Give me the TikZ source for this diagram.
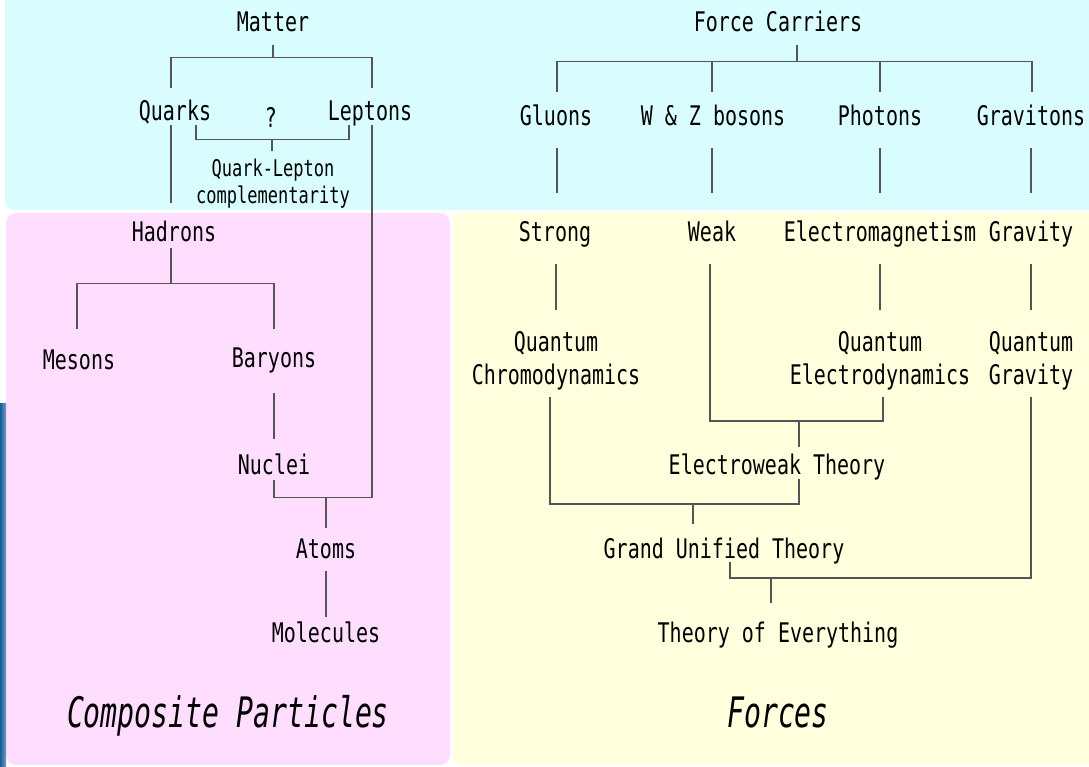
\documentclass[tikz,border=0pt]{standalone}
\usepackage{fontspec}
\newfontfamily\gfont[FakeStretch=0.74]{DejaVu Sans Mono}
\newfontfamily\gifont[FakeStretch=0.67]{DejaVu Sans Mono}
\usetikzlibrary{calc}
\definecolor{bluebg}{RGB}{217,253,255}
\definecolor{pinkbg}{RGB}{255,221,255}
\definecolor{yellowbg}{RGB}{255,254,221}
\definecolor{barblue}{RGB}{22,92,152}
\definecolor{linegray}{RGB}{85,85,85}
\tikzset{
  lbl/.style={font=\gfont\fontsize{27}{33}\selectfont, inner sep=0pt, text height=20pt, text depth=0pt},
  multi/.style={font=\gfont\fontsize{27}{33}\selectfont, inner sep=0pt, align=center, anchor=north},
  smalllbl/.style={font=\gfont\fontsize{23}{27}\selectfont, inner sep=0pt, align=center, anchor=north},
  paneltitle/.style={font=\gifont\itshape\fontsize{42}{50}\selectfont, inner sep=0pt, text height=31pt, text depth=0pt},
  conn/.style={draw=linegray, line width=1.3pt}
}
\begin{document}
\begin{tikzpicture}[x=1pt,y=-1pt]
\useasboundingbox (0,0) rectangle (1089,767);
\clip (0,0) rectangle (1089,767);
% panels
\fill[white] (0,0) rectangle (1089,767);
\fill[bluebg, rounded corners=10pt] (5,-30) rectangle (1120,210);
\fill[pinkbg, rounded corners=10pt] (6,213) rectangle (450,765);
\fill[yellowbg, rounded corners=10pt] (453,213) rectangle (1120,765);
\shade[left color=barblue, right color=barblue!60!white] (0,403) rectangle (6,767);

% left tree nodes
\node[lbl] (matter) at (273,22) {Matter};
\node[lbl] (quarks) at (175,111) {Quarks};
\node[lbl] (qm) at (271,118) {?};
\node[lbl] (leptons) at (370,111) {Leptons};
\node[smalllbl] (qlc) at (273,159) {Quark-Lepton\\complementarity};
\node[lbl] (hadrons) at (174,232) {Hadrons};
\node[lbl] (mesons) at (79,359) {Mesons};
\node[lbl] (baryons) at (274,357) {Baryons};
\node[lbl] (nuclei) at (274,464) {Nuclei};
\node[lbl] (atoms) at (326,548) {Atoms};
\node[lbl] (molecules) at (326,632) {Molecules};
\node[paneltitle] (comp) at (228,712) {Composite Particles};

% right tree nodes
\node[lbl] (fc) at (778,22) {Force Carriers};
\node[lbl] (gluons) at (556,116) {Gluons};
\node[lbl] (wz) at (713,116) {W \& Z bosons};
\node[lbl] (photons) at (880,116) {Photons};
\node[lbl] (gravitons) at (1031,116) {Gravitons};
\node[lbl] (strong) at (555,232) {Strong};
\node[lbl] (weak) at (712,232) {Weak};
\node[lbl] (em) at (880,232) {Electromagnetism};
\node[lbl] (gravity) at (1031,232) {Gravity};
\node[multi] (qcd) at (556,331) {Quantum\\Chromodynamics};
\node[multi] (qed) at (880,331) {Quantum\\Electrodynamics};
\node[multi] (qg) at (1031,331) {Quantum\\Gravity};
\node[lbl] (ew) at (777,464) {Electroweak Theory};
\node[lbl] (gut) at (724,548) {Grand Unified Theory};
\node[lbl] (toe) at (778,632) {Theory of Everything};
\node[paneltitle] (forces) at (778,712) {Forces};

% left connectors
\draw[conn] ([yshift=-13pt]matter.south) -- ++(0,13);
\draw[conn] ([xshift=-4pt,yshift=13pt]quarks.north) -- ++(0,-30) -| ([xshift=2pt,yshift=13pt]leptons.north);
\draw[conn] ([xshift=-4pt,yshift=-4pt]quarks.south) -- ([xshift=-3pt,yshift=19pt]hadrons.north);
\draw[conn] ([xshift=21pt,yshift=-4pt]quarks.south) |- ([xshift=-21pt,yshift=-18pt]leptons.south) -- ([xshift=-21pt,yshift=-4pt]leptons.south);
\draw[conn] ([xshift=1pt,yshift=-11pt]qm.south) -- ++(0,12);
\draw[conn] ([xshift=2pt,yshift=-4pt]leptons.south) |- ([yshift=-23pt]nuclei.south) -- ([yshift=-6pt]nuclei.south);
\draw[conn] ([yshift=10pt]atoms.north) -- ++(0,-31);
\draw[conn] ([xshift=-3pt,yshift=-6pt]hadrons.south) -- ++(0,36);
\draw[conn] ([xshift=-2pt,yshift=20pt]mesons.north) |- ([yshift=63pt]baryons.north) -- ([yshift=18pt]baryons.north);
\draw[conn] ([yshift=-26pt]baryons.south) -- ([yshift=15pt]nuclei.north);
\draw[conn] ([yshift=-13pt]atoms.south) -- ([yshift=5pt]molecules.north);

% right connectors
\draw[conn] ([xshift=19pt,yshift=-13pt]fc.south) -- ++(0,17);
\draw[conn] ([xshift=1pt,yshift=14pt]gluons.north) |- ([xshift=1pt,yshift=44pt]gravitons.north) -- ([xshift=1pt,yshift=14pt]gravitons.north);
\draw[conn] ([xshift=-1pt,yshift=14pt]wz.north) -- ++(0,-30);
\draw[conn] ([yshift=14pt]photons.north) -- ++(0,-30);
\draw[conn] ([xshift=1pt,yshift=-22pt]gluons.south) -- ([xshift=2pt,yshift=29pt]strong.north);
\draw[conn] ([xshift=-1pt,yshift=-22pt]wz.south) -- ([yshift=29pt]weak.north);
\draw[conn] ([yshift=-22pt]photons.south) -- ([yshift=29pt]em.north);
\draw[conn] ([yshift=-22pt]gravitons.south) -- ([yshift=29pt]gravity.north);
\draw[conn] ([xshift=1pt,yshift=-22pt]strong.south) -- ([yshift=21pt]qcd.north);
\draw[conn] ([yshift=-22pt]em.south) -- ([yshift=21pt]qed.north);
\draw[conn] ([yshift=-22pt]gravity.south) -- ([yshift=21pt]qg.north);
\draw[conn] ([xshift=-2pt,yshift=-22pt]weak.south) |- ([xshift=3pt,yshift=-90pt]qed.north) -- ([xshift=3pt,yshift=-66pt]qed.north);
\draw[conn] ([xshift=22pt,yshift=7pt]ew.north) -- ++(0,-26);
\draw[conn] ([xshift=22pt,yshift=-5pt]ew.south) |- ([xshift=-6pt,yshift=-173pt]qcd.north) -- ([xshift=-6pt,yshift=-66pt]qcd.north);
\draw[conn] ([xshift=-31pt,yshift=14pt]gut.north) -- ++(0,-20);
\draw[conn] ([xshift=6pt,yshift=-4pt]gut.south) |- ([yshift=-247pt]qg.north) -- ([yshift=-66pt]qg.north);
\draw[conn] ([xshift=-7pt,yshift=19pt]toe.north) -- ++(0,-25);
\end{tikzpicture}
\end{document}
